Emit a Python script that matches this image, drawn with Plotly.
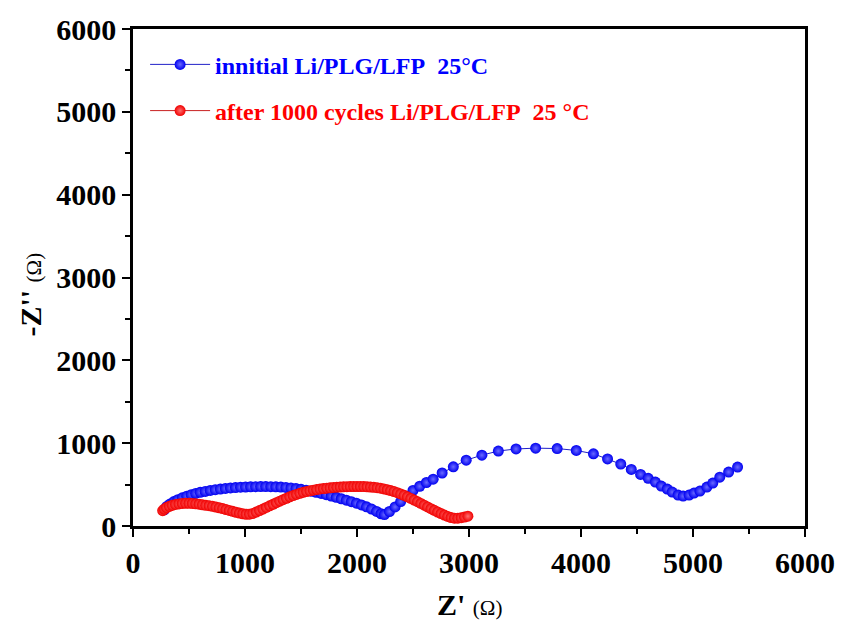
import plotly.graph_objects as go

# Nyquist data: initial cell (Z', -Z'') in ohm
init_re = [280, 300, 330, 365, 400, 440, 480, 520, 560, 600, 645, 690, 735, 780, 825,
           870, 915, 960, 1005, 1050, 1095, 1140, 1185, 1230, 1275, 1320, 1365, 1410,
           1455, 1500, 1545, 1590, 1635, 1680, 1725, 1770, 1815, 1860, 1905, 1950, 1995,
           2040, 2085, 2130, 2175, 2215, 2245, 2290, 2340, 2390, 2440, 2500, 2560, 2620,
           2680, 2760, 2860, 2975, 3115, 3262, 3420, 3595, 3787, 3958, 4111, 4237, 4355,
           4449, 4532, 4600, 4664, 4717, 4770, 4814, 4867, 4912, 4965, 5009, 5062, 5124,
           5177, 5239, 5318, 5398]
init_im = [195, 235, 265, 295, 318, 340, 360, 378, 393, 406, 418, 429, 438, 446, 453,
           459, 464, 468, 471, 473, 475, 476, 476, 475, 473, 470, 466, 460,
           452, 443, 432, 420, 407, 393, 378, 362, 346, 329, 312, 294, 275,
           254, 231, 205, 176, 148, 138, 175, 230, 295, 360, 430, 480, 525,
           565, 640, 715, 795, 855, 905, 930, 940, 935, 912, 872, 810, 747,
           683, 623, 575, 530, 482, 446, 410, 373, 361, 373, 398, 422, 470,
           518, 590, 651, 711]

# Nyquist data: after 1000 cycles
aged_re = [265, 280, 300, 325, 350, 380, 410, 440, 470, 500, 530, 560, 590, 620, 650,
           680, 710, 740, 770, 800, 830, 860, 890, 920, 950, 980, 1010, 1040, 1070, 1100,
           1130, 1160, 1190, 1220, 1250, 1280, 1310, 1340, 1370, 1400, 1430, 1460, 1490,
           1520, 1550, 1580, 1610, 1640, 1670, 1700, 1730, 1760, 1790, 1820, 1850, 1880,
           1910, 1940, 1970, 2000, 2030, 2060, 2090, 2120, 2150, 2180, 2210, 2240, 2270,
           2300, 2330, 2360, 2390, 2420, 2450, 2480, 2510, 2540, 2570, 2600, 2630, 2660,
           2690, 2720, 2750, 2780, 2810, 2840, 2870, 2900, 2930, 2960, 2990]
aged_im = [185, 205, 222, 238, 250, 260, 267, 272, 274, 274, 272, 268, 263, 256, 249,
           245, 238, 229, 220, 210, 199, 188, 177, 166, 156, 148, 142, 143, 152, 168,
           186, 205, 224, 243, 262, 281, 300, 318, 335, 352, 367, 381, 394,
           406, 416, 425, 433, 440, 447, 452, 457, 461, 465, 468, 471, 473,
           475, 476, 477, 477, 477, 476, 474, 471, 467, 462, 456, 448, 439,
           428, 416, 402, 387, 370, 352, 333, 313, 293, 272, 251, 230, 209,
           189, 169, 150, 132, 115, 102, 95, 95, 100, 108, 118]

axis_ticks = [0, 1000, 2000, 3000, 4000, 5000, 6000]
axis_labels = [str(v) for v in axis_ticks]

FONT = "Liberation Serif"

fig = go.Figure()
fig.add_trace(go.Scatter(
    x=init_re, y=init_im, mode="lines+markers",
    name="innitial Li/PLG/LFP\u00a0\u00a025°C",
    line=dict(color="#2020c8", width=1),
    marker=dict(size=11, color="#0000f0", gradient=dict(type="radial", color="#6a6aff"),
                line=dict(width=0)),
    legend="legend", showlegend=True,
))
fig.add_trace(go.Scatter(
    x=aged_re, y=aged_im, mode="lines+markers",
    name="after 1000 cycles Li/PLG/LFP\u00a0\u00a025 °C",
    line=dict(color="#c82020", width=1),
    marker=dict(size=11, color="#f00000", gradient=dict(type="radial", color="#ff7070"),
                line=dict(width=0)),
    legend="legend2", showlegend=True,
))

axis_common = dict(
    range=[0, 6000], tickmode="array", tickvals=axis_ticks, ticktext=axis_labels,
    showgrid=False, zeroline=False, showline=True, linecolor="black", linewidth=2.5,
    mirror=True, ticks="outside", ticklen=8, tickwidth=2, tickcolor="black",
    tickfont=dict(family=FONT, size=30, color="black", weight="bold"),
    minor=dict(ticks="outside", ticklen=5, tickwidth=2, tickcolor="black", dtick=500,
               tick0=0, showgrid=False),
)
fig.update_xaxes(**axis_common)
fig.update_yaxes(**axis_common)

legend_common = dict(bgcolor="rgba(0,0,0,0)", borderwidth=0, itemwidth=60,
                     xanchor="left", yanchor="middle", x=0.018, visible=True)
fig.update_layout(
    width=847, height=623,
    margin=dict(l=133, r=35, t=28, b=97),
    plot_bgcolor="white", paper_bgcolor="white",
    showlegend=True,
    legend=dict(**legend_common, y=0.928,
                font=dict(family=FONT, size=24, color="#0000ff", weight="bold")),
    legend2=dict(**legend_common, y=0.835,
                 font=dict(family=FONT, size=24, color="#ff0000", weight="bold")),
    annotations=[
        dict(text="<b>Z'</b> <span style='font-size:21px'>(Ω)</span>",
             xref="paper", yref="paper", x=0.5, y=-0.158, xanchor="center",
             yanchor="middle", showarrow=False,
             font=dict(family=FONT, size=30, color="black")),
        dict(text="<b>-Z''</b> <span style='font-size:21px'>(Ω)</span>",
             xref="paper", yref="paper", x=-0.153, y=0.466, xanchor="center",
             yanchor="middle", showarrow=False, textangle=-90,
             font=dict(family=FONT, size=30, color="black")),
    ],
)

fig.write_html("out.html")
